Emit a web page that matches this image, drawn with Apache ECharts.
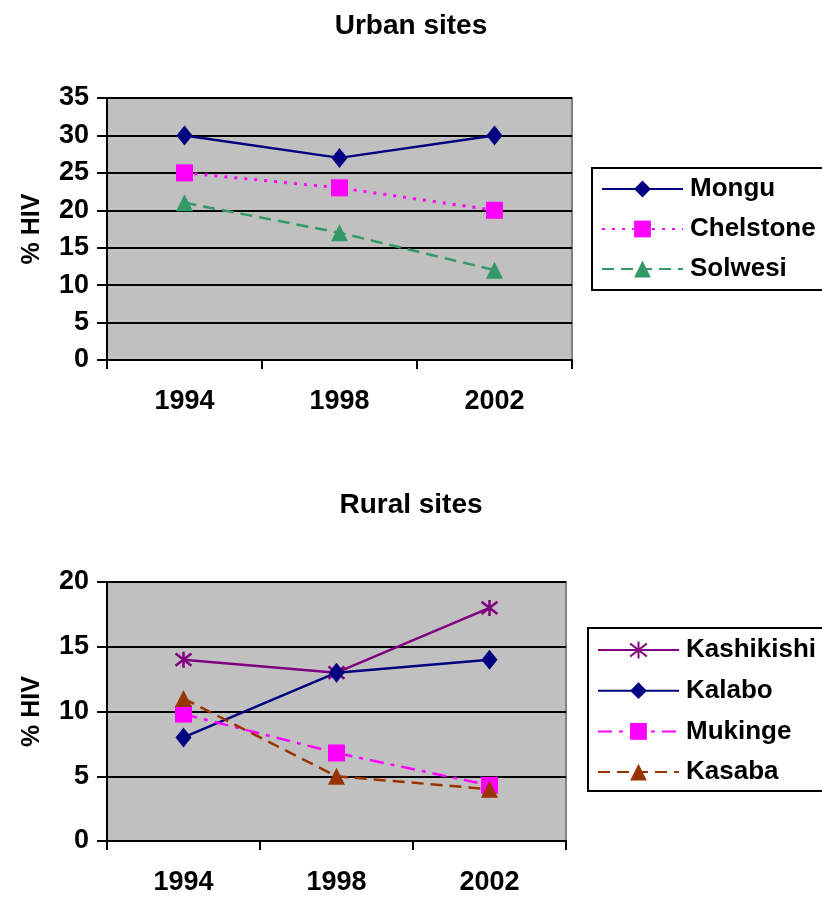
<!DOCTYPE html>
<html><head><meta charset="utf-8">
<script src="https://cdn.jsdelivr.net/npm/echarts@6/dist/echarts.min.js"></script>
<style>html,body{margin:0;padding:0;background:#fff;}#c{width:822px;height:897px;}</style>
</head><body><div id="c"></div>
<script>
const years = ['1994', '1998', '2002'];
const urbanNames = ['Mongu', 'Chelstone', 'Solwesi'];
const mongu = [30, 27, 30];
const chelstone = [25, 23, 20];
const solwesi = [21, 17, 12];
const ruralNames = ['Kashikishi', 'Kalabo', 'Mukinge', 'Kasaba'];
const kashikishi = [14, 13, 18];
const kalabo = [8, 13, 14];
const mukinge = [9.8, 6.8, 4.3];
const kasaba = [11, 5, 4];
const urbanTitle = 'Urban sites';
const ruralTitle = 'Rural sites';
const yName = '% HIV';

const FONT = 'Arial, "Liberation Sans", sans-serif';
const chart = echarts.init(document.getElementById('c'), null, {renderer: 'canvas'});
function tx(size) { return {fontFamily: FONT, fontWeight: 'bold', fontSize: size, color: '#000'}; }
const asterisk = 'path://M0,0 L10,10 M10,0 L0,10 M5,-1.5 L5,11.5';

function xAx(gi) {
  return {
    type: 'category', gridIndex: gi, data: years, boundaryGap: true,
    axisLine: {show: true, lineStyle: {color: '#000', width: 2}},
    axisTick: {show: true, inside: false, length: 9, lineStyle: {color: '#000', width: 2}},
    axisLabel: Object.assign({margin: 28}, tx(27)),
    splitLine: {show: false}
  };
}
function yAx(gi, max) {
  return {
    type: 'value', gridIndex: gi, min: 0, max: max, interval: 5,
    name: yName, nameLocation: 'middle', nameGap: 62, nameRotate: 90,
    nameTextStyle: tx(25),
    axisLine: {show: true, lineStyle: {color: '#000', width: 2}},
    axisTick: {show: true, inside: false, length: 10, lineStyle: {color: '#000', width: 2}},
    axisLabel: Object.assign({margin: 18}, tx(27)),
    splitLine: {show: true, lineStyle: {color: '#000', width: 2}}
  };
}
function ser(name, data, gi, color, type, width, symbol, size, extra) {
  const s = {
    name: name, type: 'line', xAxisIndex: gi, yAxisIndex: gi, data: data,
    symbol: symbol, symbolSize: size,
    lineStyle: {color: color, width: width, type: type},
    itemStyle: {color: color, borderColor: color, borderWidth: 0, opacity: 1},
    z: 3
  };
  if (extra) Object.assign(s, extra);
  return s;
}
const starExtra = {itemStyle: {color: 'rgba(0,0,0,0)', borderColor: '#800080', borderWidth: 2.5}};

chart.setOption({
  animation: false,
  backgroundColor: '#fff',
  title: [
    {text: urbanTitle, left: 'center', top: 7, textStyle: tx(28)},
    {text: ruralTitle, left: 'center', top: 486, textStyle: tx(28)}
  ],
  grid: [
    {left: 107, width: 465, top: 98, height: 262, show: true, backgroundColor: '#C0C0C0', borderColor: '#808080', borderWidth: 2},
    {left: 107, width: 459, top: 582, height: 259, show: true, backgroundColor: '#C0C0C0', borderColor: '#808080', borderWidth: 2}
  ],
  xAxis: [xAx(0), xAx(1)],
  yAxis: [yAx(0, 35), yAx(1, 20)],
  legend: [
    {data: urbanNames, left: 592, top: 168, orient: 'vertical', padding: [8, 40, 8, 9], itemGap: 14,
     itemWidth: 81, itemHeight: 21, borderColor: '#000', borderWidth: 2, backgroundColor: '#fff',
     textStyle: Object.assign({lineHeight: 26, padding: [0, 0, 0, 2]}, tx(26))},
    {data: ruralNames, left: 588, top: 628, orient: 'vertical', padding: [9, 40, 6, 9], itemGap: 14.7,
     itemWidth: 81, itemHeight: 21, borderColor: '#000', borderWidth: 2, backgroundColor: '#fff',
     textStyle: Object.assign({lineHeight: 26, padding: [0, 0, 0, 2]}, tx(26))}
  ],
  series: [
    ser(urbanNames[0], mongu, 0, '#000080', 'solid', 2.5, 'diamond', [16, 20]),
    ser(urbanNames[1], chelstone, 0, '#FF00FF', [3, 7], 3, 'rect', 17),
    ser(urbanNames[2], solwesi, 0, '#339966', [12, 7], 2.5, 'triangle', 17),
    ser(ruralNames[0], kashikishi, 1, '#800080', 'solid', 2.5, asterisk, 16, starExtra),
    ser(ruralNames[1], kalabo, 1, '#000080', 'solid', 2.5, 'diamond', [16, 20]),
    ser(ruralNames[2], mukinge, 1, '#FF00FF', [14, 7, 4, 7], 2.5, 'rect', 17),
    ser(ruralNames[3], kasaba, 1, '#993300', [12, 7], 2.5, 'triangle', 17)
  ]
});
</script></body></html>
